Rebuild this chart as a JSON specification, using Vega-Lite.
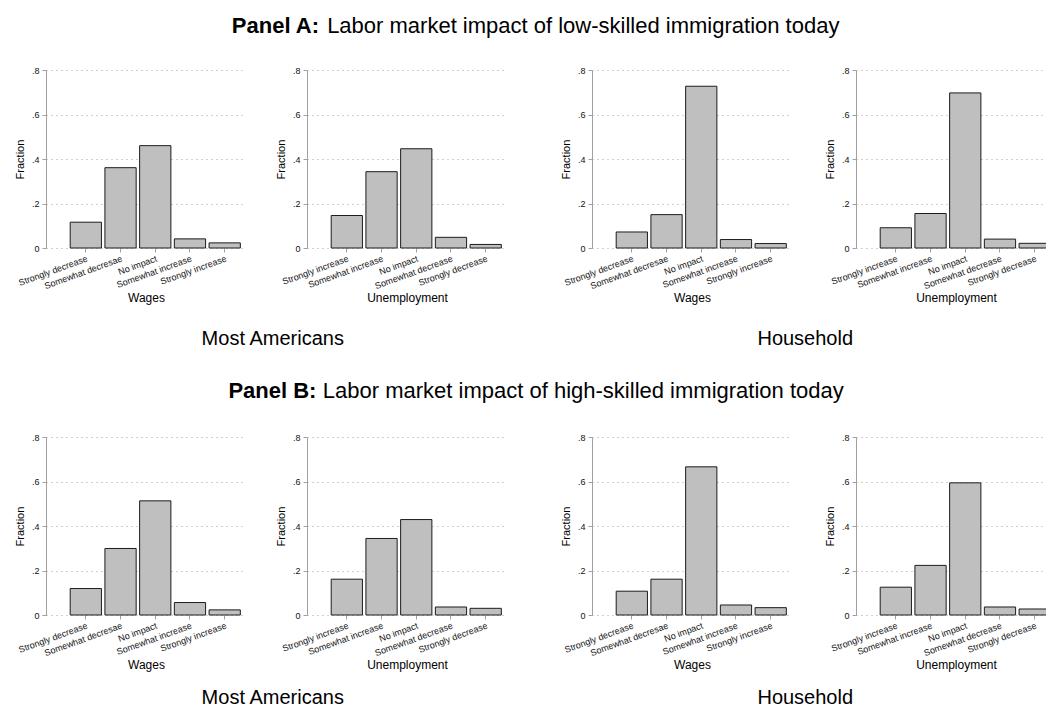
{
  "$schema": "https://vega.github.io/schema/vega-lite/v6.json",
  "padding": {"left": 14, "top": 15, "right": 0, "bottom": 0},
  "data": {"name": "bars"},
  "datasets": {
    "bars": [
      {"panel": "A", "who": "Most Americans", "outcome": "Wages", "response": "Strongly decrease", "fraction": 0.116},
      {"panel": "A", "who": "Most Americans", "outcome": "Wages", "response": "Somewhat decresae", "fraction": 0.361},
      {"panel": "A", "who": "Most Americans", "outcome": "Wages", "response": "No impact", "fraction": 0.460},
      {"panel": "A", "who": "Most Americans", "outcome": "Wages", "response": "Somewhat increase", "fraction": 0.041},
      {"panel": "A", "who": "Most Americans", "outcome": "Wages", "response": "Strongly increase", "fraction": 0.023},
      {"panel": "A", "who": "Most Americans", "outcome": "Unemployment", "response": "Strongly increase", "fraction": 0.146},
      {"panel": "A", "who": "Most Americans", "outcome": "Unemployment", "response": "Somewhat increase", "fraction": 0.343},
      {"panel": "A", "who": "Most Americans", "outcome": "Unemployment", "response": "No impact", "fraction": 0.446},
      {"panel": "A", "who": "Most Americans", "outcome": "Unemployment", "response": "Somewhat decrease", "fraction": 0.048},
      {"panel": "A", "who": "Most Americans", "outcome": "Unemployment", "response": "Strongly decrease", "fraction": 0.016},
      {"panel": "A", "who": "Household", "outcome": "Wages", "response": "Strongly decrease", "fraction": 0.072},
      {"panel": "A", "who": "Household", "outcome": "Wages", "response": "Somewhat decresae", "fraction": 0.150},
      {"panel": "A", "who": "Household", "outcome": "Wages", "response": "No impact", "fraction": 0.727},
      {"panel": "A", "who": "Household", "outcome": "Wages", "response": "Somewhat increase", "fraction": 0.038},
      {"panel": "A", "who": "Household", "outcome": "Wages", "response": "Strongly increase", "fraction": 0.020},
      {"panel": "A", "who": "Household", "outcome": "Unemployment", "response": "Strongly increase", "fraction": 0.091},
      {"panel": "A", "who": "Household", "outcome": "Unemployment", "response": "Somewhat increase", "fraction": 0.155},
      {"panel": "A", "who": "Household", "outcome": "Unemployment", "response": "No impact", "fraction": 0.697},
      {"panel": "A", "who": "Household", "outcome": "Unemployment", "response": "Somewhat decrease", "fraction": 0.040},
      {"panel": "A", "who": "Household", "outcome": "Unemployment", "response": "Strongly decrease", "fraction": 0.021},
      {"panel": "B", "who": "Most Americans", "outcome": "Wages", "response": "Strongly decrease", "fraction": 0.119},
      {"panel": "B", "who": "Most Americans", "outcome": "Wages", "response": "Somewhat decresae", "fraction": 0.299},
      {"panel": "B", "who": "Most Americans", "outcome": "Wages", "response": "No impact", "fraction": 0.513},
      {"panel": "B", "who": "Most Americans", "outcome": "Wages", "response": "Somewhat increase", "fraction": 0.056},
      {"panel": "B", "who": "Most Americans", "outcome": "Wages", "response": "Strongly increase", "fraction": 0.023},
      {"panel": "B", "who": "Most Americans", "outcome": "Unemployment", "response": "Strongly increase", "fraction": 0.161},
      {"panel": "B", "who": "Most Americans", "outcome": "Unemployment", "response": "Somewhat increase", "fraction": 0.344},
      {"panel": "B", "who": "Most Americans", "outcome": "Unemployment", "response": "No impact", "fraction": 0.429},
      {"panel": "B", "who": "Most Americans", "outcome": "Unemployment", "response": "Somewhat decrease", "fraction": 0.036},
      {"panel": "B", "who": "Most Americans", "outcome": "Unemployment", "response": "Strongly decrease", "fraction": 0.030},
      {"panel": "B", "who": "Household", "outcome": "Wages", "response": "Strongly decrease", "fraction": 0.107},
      {"panel": "B", "who": "Household", "outcome": "Wages", "response": "Somewhat decresae", "fraction": 0.161},
      {"panel": "B", "who": "Household", "outcome": "Wages", "response": "No impact", "fraction": 0.666},
      {"panel": "B", "who": "Household", "outcome": "Wages", "response": "Somewhat increase", "fraction": 0.045},
      {"panel": "B", "who": "Household", "outcome": "Wages", "response": "Strongly increase", "fraction": 0.033},
      {"panel": "B", "who": "Household", "outcome": "Unemployment", "response": "Strongly increase", "fraction": 0.125},
      {"panel": "B", "who": "Household", "outcome": "Unemployment", "response": "Somewhat increase", "fraction": 0.223},
      {"panel": "B", "who": "Household", "outcome": "Unemployment", "response": "No impact", "fraction": 0.594},
      {"panel": "B", "who": "Household", "outcome": "Unemployment", "response": "Somewhat decrease", "fraction": 0.036},
      {"panel": "B", "who": "Household", "outcome": "Unemployment", "response": "Strongly decrease", "fraction": 0.027}
    ]
  },
  "spacing": 31,
  "vconcat": [
    {
      "title": {
        "text": "Panel A:\u00a0\u00a0\u00a0\u00a0\u00a0\u00a0\u00a0\u00a0\u00a0\u00a0\u00a0\u00a0\u00a0\u00a0\u00a0\u00a0\u00a0\u00a0\u00a0\u00a0\u00a0\u00a0\u00a0\u00a0\u00a0\u00a0\u00a0\u00a0\u00a0\u00a0\u00a0\u00a0\u00a0\u00a0\u00a0\u00a0\u00a0\u00a0\u00a0\u00a0\u00a0\u00a0\u00a0\u00a0\u00a0\u00a0\u00a0\u00a0\u00a0\u00a0\u00a0\u00a0\u00a0\u00a0\u00a0\u00a0\u00a0\u00a0\u00a0\u00a0\u00a0\u00a0\u00a0\u00a0\u00a0\u00a0\u00a0\u00a0\u00a0\u00a0\u00a0\u00a0\u00a0\u00a0\u00a0\u00a0\u00a0\u00a0\u00a0\u00a0\u00a0\u00a0\u00a0\u00a0\u00a0\u200b",
        "subtitle": "\u200b\u00a0\u00a0\u00a0\u00a0\u00a0\u00a0\u00a0\u00a0\u00a0\u00a0\u00a0\u00a0\u00a0\u00a0\u00a0\u2009Labor market impact of low-skilled immigration today",
        "dx": 0
      },
      "spacing": 53,
      "hconcat": [
        {
          "title": {"text": "Most Americans", "orient": "bottom", "fontSize": 20, "fontWeight": "normal", "anchor": "middle", "baseline": "top", "offset": 25, "dx": 12},
          "spacing": 29,
          "hconcat": [
            {
              "width": 200, "height": 178,
              "transform": [{"filter": "datum.panel === 'A' && datum.who === 'Most Americans' && datum.outcome === 'Wages'"}],
              "mark": {"type": "bar", "fill": "#bfbfbf", "stroke": "#1c1c1c", "strokeWidth": 1},
              "encoding": {
                "x": {"field": "response", "type": "nominal", "sort": ["Strongly decrease", "Somewhat decresae", "No impact", "Somewhat increase", "Strongly increase"], "scale": {"paddingInner": 0.1, "paddingOuter": 0.43, "align": 0.81}, "axis": {"title": "Wages"}},
                "y": {"field": "fraction", "type": "quantitative", "scale": {"domain": [0, 0.8]}, "axis": {"title": "Fraction", "values": [0, 0.2, 0.4, 0.6, 0.8]}}
              }
            },
            {
              "width": 200, "height": 178,
              "transform": [{"filter": "datum.panel === 'A' && datum.who === 'Most Americans' && datum.outcome === 'Unemployment'"}],
              "mark": {"type": "bar", "fill": "#bfbfbf", "stroke": "#1c1c1c", "strokeWidth": 1},
              "encoding": {
                "x": {"field": "response", "type": "nominal", "sort": ["Strongly increase", "Somewhat increase", "No impact", "Somewhat decrease", "Strongly decrease"], "scale": {"paddingInner": 0.1, "paddingOuter": 0.43, "align": 0.81}, "axis": {"title": "Unemployment"}},
                "y": {"field": "fraction", "type": "quantitative", "scale": {"domain": [0, 0.8]}, "axis": {"title": "Fraction", "values": [0, 0.2, 0.4, 0.6, 0.8]}}
              }
            }
          ],
          "resolve": {"scale": {"x": "independent", "y": "independent"}}
        },
        {
          "title": {"text": "Household", "orient": "bottom", "fontSize": 20, "fontWeight": "normal", "anchor": "middle", "baseline": "top", "offset": 25, "dx": -3},
          "spacing": 32,
          "hconcat": [
            {
              "width": 200, "height": 178,
              "transform": [{"filter": "datum.panel === 'A' && datum.who === 'Household' && datum.outcome === 'Wages'"}],
              "mark": {"type": "bar", "fill": "#bfbfbf", "stroke": "#1c1c1c", "strokeWidth": 1},
              "encoding": {
                "x": {"field": "response", "type": "nominal", "sort": ["Strongly decrease", "Somewhat decresae", "No impact", "Somewhat increase", "Strongly increase"], "scale": {"paddingInner": 0.1, "paddingOuter": 0.43, "align": 0.81}, "axis": {"title": "Wages"}},
                "y": {"field": "fraction", "type": "quantitative", "scale": {"domain": [0, 0.8]}, "axis": {"title": "Fraction", "values": [0, 0.2, 0.4, 0.6, 0.8]}}
              }
            },
            {
              "width": 200, "height": 178,
              "transform": [{"filter": "datum.panel === 'A' && datum.who === 'Household' && datum.outcome === 'Unemployment'"}],
              "mark": {"type": "bar", "fill": "#bfbfbf", "stroke": "#1c1c1c", "strokeWidth": 1},
              "encoding": {
                "x": {"field": "response", "type": "nominal", "sort": ["Strongly increase", "Somewhat increase", "No impact", "Somewhat decrease", "Strongly decrease"], "scale": {"paddingInner": 0.1, "paddingOuter": 0.43, "align": 0.81}, "axis": {"title": "Unemployment"}},
                "y": {"field": "fraction", "type": "quantitative", "scale": {"domain": [0, 0.8]}, "axis": {"title": "Fraction", "values": [0, 0.2, 0.4, 0.6, 0.8]}}
              }
            }
          ],
          "resolve": {"scale": {"x": "independent", "y": "independent"}}
        }
      ],
      "resolve": {"scale": {"x": "independent", "y": "independent"}}
    },
    {
      "title": {
        "text": "Panel B:\u00a0\u00a0\u00a0\u00a0\u00a0\u00a0\u00a0\u00a0\u00a0\u00a0\u00a0\u00a0\u00a0\u00a0\u00a0\u00a0\u00a0\u00a0\u00a0\u00a0\u00a0\u00a0\u00a0\u00a0\u00a0\u00a0\u00a0\u00a0\u00a0\u00a0\u00a0\u00a0\u00a0\u00a0\u00a0\u00a0\u00a0\u00a0\u00a0\u00a0\u00a0\u00a0\u00a0\u00a0\u00a0\u00a0\u00a0\u00a0\u00a0\u00a0\u00a0\u00a0\u00a0\u00a0\u00a0\u00a0\u00a0\u00a0\u00a0\u00a0\u00a0\u00a0\u00a0\u00a0\u00a0\u00a0\u00a0\u00a0\u00a0\u00a0\u00a0\u00a0\u00a0\u00a0\u00a0\u00a0\u00a0\u00a0\u00a0\u00a0\u00a0\u00a0\u00a0\u00a0\u00a0\u00a0\u200b",
        "subtitle": "\u200b\u00a0\u00a0\u00a0\u00a0\u00a0\u00a0\u00a0\u00a0\u00a0\u00a0\u00a0\u00a0\u00a0\u00a0\u00a0\u2009Labor market impact of high-skilled immigration today",
        "dx": 0,
        "offset": 30
      },
      "spacing": 53,
      "hconcat": [
        {
          "title": {"text": "Most Americans", "orient": "bottom", "fontSize": 20, "fontWeight": "normal", "anchor": "middle", "baseline": "top", "offset": 17, "dx": 12},
          "spacing": 29,
          "hconcat": [
            {
              "width": 200, "height": 178,
              "transform": [{"filter": "datum.panel === 'B' && datum.who === 'Most Americans' && datum.outcome === 'Wages'"}],
              "mark": {"type": "bar", "fill": "#bfbfbf", "stroke": "#1c1c1c", "strokeWidth": 1},
              "encoding": {
                "x": {"field": "response", "type": "nominal", "sort": ["Strongly decrease", "Somewhat decresae", "No impact", "Somewhat increase", "Strongly increase"], "scale": {"paddingInner": 0.1, "paddingOuter": 0.43, "align": 0.81}, "axis": {"title": "Wages"}},
                "y": {"field": "fraction", "type": "quantitative", "scale": {"domain": [0, 0.8]}, "axis": {"title": "Fraction", "values": [0, 0.2, 0.4, 0.6, 0.8]}}
              }
            },
            {
              "width": 200, "height": 178,
              "transform": [{"filter": "datum.panel === 'B' && datum.who === 'Most Americans' && datum.outcome === 'Unemployment'"}],
              "mark": {"type": "bar", "fill": "#bfbfbf", "stroke": "#1c1c1c", "strokeWidth": 1},
              "encoding": {
                "x": {"field": "response", "type": "nominal", "sort": ["Strongly increase", "Somewhat increase", "No impact", "Somewhat decrease", "Strongly decrease"], "scale": {"paddingInner": 0.1, "paddingOuter": 0.43, "align": 0.81}, "axis": {"title": "Unemployment"}},
                "y": {"field": "fraction", "type": "quantitative", "scale": {"domain": [0, 0.8]}, "axis": {"title": "Fraction", "values": [0, 0.2, 0.4, 0.6, 0.8]}}
              }
            }
          ],
          "resolve": {"scale": {"x": "independent", "y": "independent"}}
        },
        {
          "title": {"text": "Household", "orient": "bottom", "fontSize": 20, "fontWeight": "normal", "anchor": "middle", "baseline": "top", "offset": 17, "dx": -3},
          "spacing": 32,
          "hconcat": [
            {
              "width": 200, "height": 178,
              "transform": [{"filter": "datum.panel === 'B' && datum.who === 'Household' && datum.outcome === 'Wages'"}],
              "mark": {"type": "bar", "fill": "#bfbfbf", "stroke": "#1c1c1c", "strokeWidth": 1},
              "encoding": {
                "x": {"field": "response", "type": "nominal", "sort": ["Strongly decrease", "Somewhat decresae", "No impact", "Somewhat increase", "Strongly increase"], "scale": {"paddingInner": 0.1, "paddingOuter": 0.43, "align": 0.81}, "axis": {"title": "Wages"}},
                "y": {"field": "fraction", "type": "quantitative", "scale": {"domain": [0, 0.8]}, "axis": {"title": "Fraction", "values": [0, 0.2, 0.4, 0.6, 0.8]}}
              }
            },
            {
              "width": 200, "height": 178,
              "transform": [{"filter": "datum.panel === 'B' && datum.who === 'Household' && datum.outcome === 'Unemployment'"}],
              "mark": {"type": "bar", "fill": "#bfbfbf", "stroke": "#1c1c1c", "strokeWidth": 1},
              "encoding": {
                "x": {"field": "response", "type": "nominal", "sort": ["Strongly increase", "Somewhat increase", "No impact", "Somewhat decrease", "Strongly decrease"], "scale": {"paddingInner": 0.1, "paddingOuter": 0.43, "align": 0.81}, "axis": {"title": "Unemployment"}},
                "y": {"field": "fraction", "type": "quantitative", "scale": {"domain": [0, 0.8]}, "axis": {"title": "Fraction", "values": [0, 0.2, 0.4, 0.6, 0.8]}}
              }
            }
          ],
          "resolve": {"scale": {"x": "independent", "y": "independent"}}
        }
      ],
      "resolve": {"scale": {"x": "independent", "y": "independent"}}
    }
  ],
  "resolve": {"scale": {"x": "independent", "y": "independent"}},
  "config": {
    "font": "Liberation Sans",
    "view": {"stroke": null},
    "title": {"fontSize": 22, "fontWeight": "bold", "color": "#000000", "subtitleFontSize": 22, "subtitleFontWeight": "normal", "subtitleColor": "#000000", "subtitlePadding": -22, "anchor": "middle", "baseline": "top", "offset": 28, "font": "Liberation Sans", "subtitleFont": "Liberation Sans"},
    "axis": {"labelFont": "Liberation Sans", "titleFont": "Liberation Sans", "labelColor": "#111111", "titleColor": "#000000", "titleFontWeight": "normal", "tickColor": "#a0a0a0", "domainColor": "#a0a0a0", "tickSize": 4, "tickWidth": 1, "domainWidth": 1},
    "axisX": {"domain": false, "grid": false, "labelAngle": -20, "labelAlign": "right", "labelBaseline": "top", "labelFontSize": 9, "labelPadding": 2, "labelOverlap": false, "labelLimit": 0, "titleFontSize": 12, "titlePadding": 2},
    "axisY": {"grid": true, "gridDash": [1, 4], "gridColor": "#a0a0a0", "gridWidth": 1, "labelFontSize": 9, "labelPadding": 3, "titleFontSize": 11, "titlePadding": 6, "labelExpr": "datum.value == 0 ? '0' : replace(format(datum.value, '.1f'), '0.', '.')"}
  }
}
